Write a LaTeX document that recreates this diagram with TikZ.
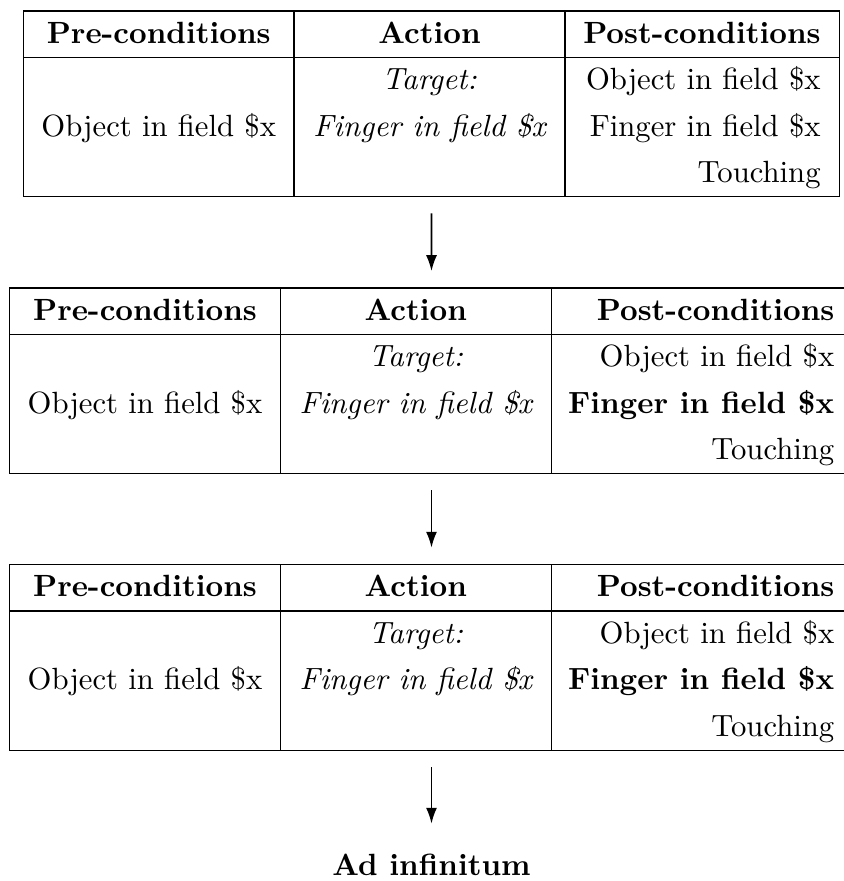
\documentclass[tikz,border=0pt]{standalone}
\usetikzlibrary{arrows.meta}
\begin{document}
\begin{tikzpicture}[x=0.3257pt, y=-0.3257pt,
  frame/.style={draw, line width=0.4pt, inner sep=0pt, outer sep=0pt, anchor=north west},
  rule/.style={line width=0.4pt},
  hd/.style={font=\bfseries, anchor=base, inner sep=0pt},
  hdr/.style={font=\bfseries, anchor=base east, inner sep=0pt},
  cc/.style={anchor=base, inner sep=0pt},
  cr/.style={anchor=base east, inner sep=0pt},
  flow/.style={line width=0.6pt, -{Latex[length=5.2pt,width=3.6pt]}, shorten <=5.5pt, shorten >=5.5pt}]
\useasboundingbox (0,0) rectangle (843,881);

% ---------- table 1 ----------
\node[frame, minimum width={816.2*0.3257pt}, minimum height={185.6*0.3257pt}] (t1) at (23.4,11) {};
\draw[rule] (23.4,57.4) -- (839.6,57.4);
\draw[rule] (294.0,11) -- (294.0,196.6);
\draw[rule] (565.0,11) -- (565.0,196.6);
\node[hd] (t1h1) at (158.7,43.2) {Pre-conditions};
\node[hd] (t1h2) at (429.5,43.2) {Action};
\node[hdr] (t1h3) at (821.2,43.2) {Post-conditions};
\node[cc] (t1a) at (158.7,136) {Object in field \$x};
\node[cc] (t1b1) at (429.5,89.6) {\itshape Target:};
\node[cc] (t1b2) at (429.5,136) {\itshape Finger in field \$x};
\node[cr] (t1c1) at (821.2,89.6) {Object in field \$x};
\node[cr] (t1c2) at (821.2,136) {Finger in field \$x};
\node[cr] (t1c3) at (821.2,182.4) {Touching};

% ---------- table 2 ----------
\node[frame, minimum width={843.6*0.3257pt}, minimum height={185.6*0.3257pt}] (t2) at (9.7,288) {};
\draw[rule] (9.7,334.4) -- (853.3,334.4);
\draw[rule] (280.3,288) -- (280.3,473.6);
\draw[rule] (551.3,288) -- (551.3,473.6);
\node[hd] (t2h1) at (145.0,320.2) {Pre-conditions};
\node[hd] (t2h2) at (415.8,320.2) {Action};
\node[hdr] (t2h3) at (834.9,320.2) {Post-conditions};
\node[cc] (t2a) at (145.0,413) {Object in field \$x};
\node[cc] (t2b1) at (415.8,366.6) {\itshape Target:};
\node[cc] (t2b2) at (415.8,413) {\itshape Finger in field \$x};
\node[cr] (t2c1) at (834.9,366.6) {Object in field \$x};
\node[cr] (t2c2) at (834.9,413) {\bfseries Finger in field \$x};
\node[cr] (t2c3) at (834.9,459.4) {Touching};

% ---------- table 3 ----------
\node[frame, minimum width={843.6*0.3257pt}, minimum height={185.6*0.3257pt}] (t3) at (9.7,564.6) {};
\draw[rule] (9.7,611.0) -- (853.3,611.0);
\draw[rule] (280.3,564.6) -- (280.3,750.2);
\draw[rule] (551.3,564.6) -- (551.3,750.2);
\node[hd] (t3h1) at (145.0,596.8) {Pre-conditions};
\node[hd] (t3h2) at (415.8,596.8) {Action};
\node[hdr] (t3h3) at (834.9,596.8) {Post-conditions};
\node[cc] (t3a) at (145.0,689.6) {Object in field \$x};
\node[cc] (t3b1) at (415.8,643.2) {\itshape Target:};
\node[cc] (t3b2) at (415.8,689.6) {\itshape Finger in field \$x};
\node[cr] (t3c1) at (834.9,643.2) {Object in field \$x};
\node[cr] (t3c2) at (834.9,689.6) {\bfseries Finger in field \$x};
\node[cr] (t3c3) at (834.9,736.0) {Touching};

% ---------- end ----------
\node[hd] (adinf) at (431.5,875) {Ad infinitum};

\draw[flow] (t1.south) -- (t2.north);
\draw[flow] (t2.south) -- (t3.north);
\draw[flow, shorten >=9.5pt] (t3.south) -- (adinf.north);
\end{tikzpicture}
\end{document}
